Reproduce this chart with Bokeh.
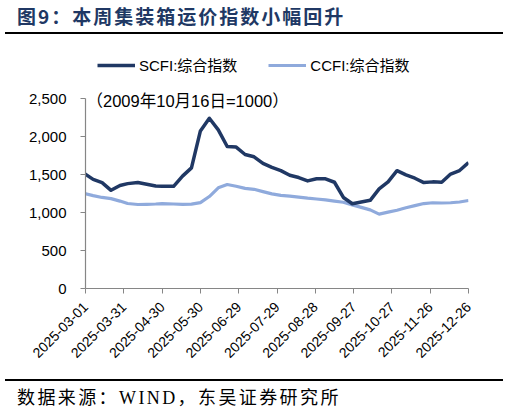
import pandas as pd
from bokeh.plotting import figure
from bokeh.models import (Legend, LegendItem, Label, FixedTicker, NumeralTickFormatter,
                          DatetimeTickFormatter, Div, Range1d)
from bokeh.layouts import column
from bokeh.embed import file_html
from bokeh.resources import INLINE

# ---------------- data ----------------
DATES = ["2025-02-28", "2025-03-07", "2025-03-14", "2025-03-21", "2025-03-28",
         "2025-04-03", "2025-04-11", "2025-04-18", "2025-04-25", "2025-04-30",
         "2025-05-09", "2025-05-16", "2025-05-23", "2025-05-30", "2025-06-06",
         "2025-06-13", "2025-06-20", "2025-06-27", "2025-07-04", "2025-07-11",
         "2025-07-18", "2025-07-25", "2025-08-01", "2025-08-08", "2025-08-15",
         "2025-08-22", "2025-08-29", "2025-09-05", "2025-09-12", "2025-09-19",
         "2025-09-26", "2025-10-10", "2025-10-17", "2025-10-24", "2025-10-31",
         "2025-11-07", "2025-11-14", "2025-11-21", "2025-11-28", "2025-12-05",
         "2025-12-12", "2025-12-19", "2025-12-26"]

SCFI = [1515, 1436, 1394, 1292, 1356,
        1380, 1395, 1372, 1348, 1346,
        1345, 1479, 1587, 2073, 2240,
        2088, 1869, 1861, 1763, 1733,
        1646, 1593, 1551, 1490, 1460,
        1416, 1445, 1444, 1398, 1198,
        1115, 1160, 1310, 1403, 1550,
        1495, 1451, 1394, 1403, 1398,
        1506, 1552, 1656]

CCFI = [1250, 1222, 1198, 1182, 1150,
        1118, 1105, 1108, 1112, 1118,
        1112, 1108, 1110, 1130, 1210,
        1325, 1368, 1345, 1318, 1305,
        1275, 1245, 1225, 1215, 1202,
        1188, 1178, 1165, 1150, 1135,
        1100, 1035, 978, 1005, 1030,
        1062, 1090, 1118, 1128, 1125,
        1128, 1138, 1158]

SERIES_NAMES = ["SCFI:综合指数", "CCFI:综合指数"]
X_TICK_LABELS = ["2025-03-01", "2025-03-31", "2025-04-30", "2025-05-30", "2025-06-29",
                 "2025-07-29", "2025-08-28", "2025-09-27", "2025-10-27", "2025-11-26",
                 "2025-12-26"]
Y_TICKS = [0, 500, 1000, 1500, 2000, 2500]
TITLE = "图9：本周集装箱运价指数小幅回升"
NOTE = "（2009年10月16日=1000）"
SOURCE = "数据来源：WIND，东吴证券研究所"

# ---------------- styles / layout ----------------
C_SCFI = "#203864"
C_CCFI = "#8FAADC"
AXIS_C = "#868686"
SANS = "'Liberation Sans', 'Noto Sans CJK SC'"

FIG_W, FIG_H = 493, 345
B_LEFT, B_RIGHT, B_TOP, B_BOTTOM = 85, 25, 16, 91
FRAME_H = FIG_H - B_TOP - B_BOTTOM          # px
AXIS_H = 190                                  # px used by 0..2500
Y_END = Y_TICKS[-1] * FRAME_H / AXIS_H        # headroom above the axis for legend / note

dates = pd.to_datetime(DATES)
xt = [float(v) / 1e6 for v in pd.to_datetime(X_TICK_LABELS).astype("int64")]

p = figure(width=FIG_W, height=FIG_H, x_axis_type="datetime", output_backend="svg",
           toolbar_location=None, title=None,
           x_range=Range1d(pd.Timestamp(X_TICK_LABELS[0]), pd.Timestamp(X_TICK_LABELS[-1])),
           y_range=Range1d(Y_TICKS[0], Y_END),
           min_border_left=B_LEFT, min_border_right=B_RIGHT,
           min_border_top=B_TOP, min_border_bottom=B_BOTTOM)
p.margin = 0
p.outline_line_color = None
p.grid.visible = False
p.background_fill_color = "white"
p.border_fill_color = "white"

r2 = p.line(dates, CCFI, line_color=C_CCFI, line_width=3.2, line_join="round")
r1 = p.line(dates, SCFI, line_color=C_SCFI, line_width=3.5, line_join="round")

for ax in (p.xaxis[0], p.yaxis[0]):
    ax.axis_line_color = AXIS_C
    ax.axis_line_width = 1.2
    ax.major_tick_line_color = AXIS_C
    ax.major_tick_in = 0
    ax.major_tick_out = 5
    ax.minor_tick_line_color = None
    ax.major_label_text_font = SANS
    ax.major_label_text_color = "#000000"

p.yaxis.bounds = (Y_TICKS[0], Y_TICKS[-1])
p.yaxis.ticker = FixedTicker(ticks=Y_TICKS)
p.yaxis.formatter = NumeralTickFormatter(format="0,0")
p.yaxis.major_label_standoff = 14
p.yaxis.major_label_text_font_size = "15px"

fmt = "%Y-%m-%d"
p.xaxis.ticker = FixedTicker(ticks=xt)
p.xaxis.formatter = DatetimeTickFormatter(milliseconds=fmt, seconds=fmt, minsec=fmt, minutes=fmt,
                                          hourmin=fmt, hours=fmt, days=fmt, months=fmt, years=fmt)
p.xaxis.major_label_orientation = 0.785398
p.xaxis.major_label_standoff = 11
p.xaxis.major_label_text_font_size = "14px"

legend = Legend(items=[LegendItem(label=SERIES_NAMES[0], renderers=[r1]),
                       LegendItem(label=SERIES_NAMES[1], renderers=[r2])],
                orientation="horizontal", location=(12, FRAME_H - 25),
                glyph_width=38, glyph_height=20, label_standoff=4, spacing=31,
                padding=0, margin=0, border_line_alpha=0, background_fill_alpha=0,
                label_text_font=SANS, label_text_font_size="15px", label_text_color="#000000")
p.add_layout(legend, "center")

p.add_layout(Label(x=1, y=FRAME_H - 50, x_units="screen", y_units="screen", text=NOTE,
                   text_font=SANS, text_font_size="16.5px", text_baseline="middle",
                   text_color="#000000"))

title_div = Div(text=(f'<div style="margin-left:5px;width:498px;height:34px;border-bottom:2px solid #000;'
                      f'padding-left:12px;padding-top:5px;box-sizing:border-box;'
                      f'font-family:\'Noto Sans CJK SC\';font-weight:bold;font-size:19px;'
                      f'letter-spacing:2px;line-height:22px;color:{C_SCFI};white-space:nowrap;">{TITLE}</div>'),
                width=503, height=34, margin=0)

src_div = Div(text=('<div style="margin-left:5px;width:498px;height:34px;border-top:2px solid #000;'
                    'padding-left:12px;padding-top:7px;box-sizing:border-box;'
                    'font-family:\'Liberation Serif\',\'Noto Sans CJK SC\';font-size:18px;'
                    f'letter-spacing:2.4px;line-height:20px;color:#000;white-space:nowrap;">{SOURCE}</div>'),
              width=503, height=34, margin=0)

layout = column(title_div, p, src_div, spacing=0)
open("out.html", "w").write(file_html(layout, INLINE))
